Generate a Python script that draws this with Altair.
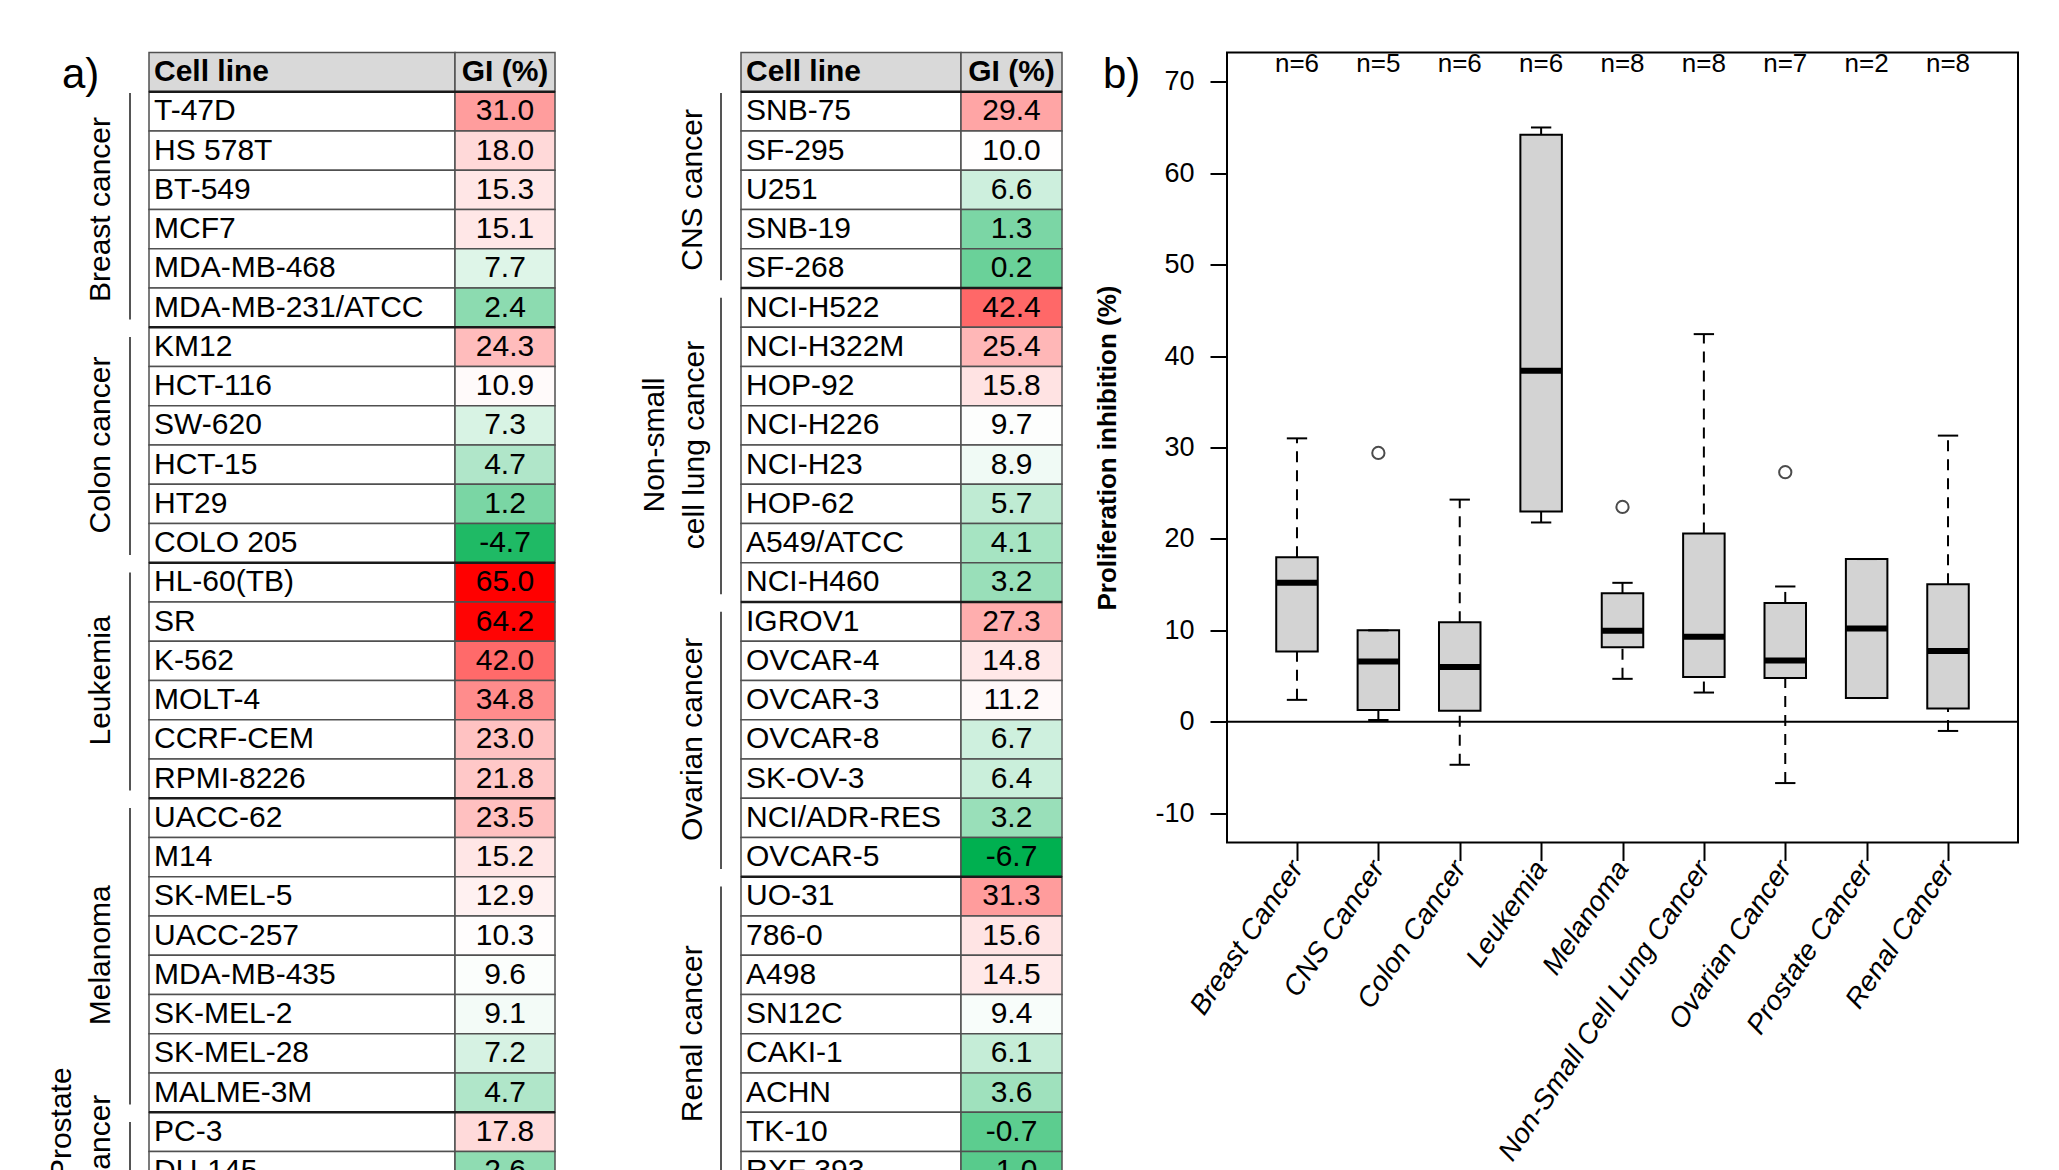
import json
import altair as alt
import numpy as np
import pandas as pd

FONT = "Liberation Sans, Arial, Helvetica, sans-serif"

# ---------------- data ----------------
breast_cells = ["T-47D", "HS 578T", "BT-549", "MCF7", "MDA-MB-468", "MDA-MB-231/ATCC"]
breast_gi = [31.0, 18.0, 15.3, 15.1, 7.7, 2.4]
colon_cells = ["KM12", "HCT-116", "SW-620", "HCT-15", "HT29", "COLO 205"]
colon_gi = [24.3, 10.9, 7.3, 4.7, 1.2, -4.7]
leukemia_cells = ["HL-60(TB)", "SR", "K-562", "MOLT-4", "CCRF-CEM", "RPMI-8226"]
leukemia_gi = [65.0, 64.2, 42.0, 34.8, 23.0, 21.8]
melanoma_cells = ["UACC-62", "M14", "SK-MEL-5", "UACC-257", "MDA-MB-435", "SK-MEL-2", "SK-MEL-28", "MALME-3M"]
melanoma_gi = [23.5, 15.2, 12.9, 10.3, 9.6, 9.1, 7.2, 4.7]
prostate_cells = ["PC-3", "DU-145"]
prostate_gi = [17.8, 2.6]
cns_cells = ["SNB-75", "SF-295", "U251", "SNB-19", "SF-268"]
cns_gi = [29.4, 10.0, 6.6, 1.3, 0.2]
nsclc_cells = ["NCI-H522", "NCI-H322M", "HOP-92", "NCI-H226", "NCI-H23", "HOP-62", "A549/ATCC", "NCI-H460"]
nsclc_gi = [42.4, 25.4, 15.8, 9.7, 8.9, 5.7, 4.1, 3.2]
ovarian_cells = ["IGROV1", "OVCAR-4", "OVCAR-3", "OVCAR-8", "SK-OV-3", "NCI/ADR-RES", "OVCAR-5"]
ovarian_gi = [27.3, 14.8, 11.2, 6.7, 6.4, 3.2, -6.7]
renal_cells = ["UO-31", "786-0", "A498", "SN12C", "CAKI-1", "ACHN", "TK-10", "RXF 393"]
renal_gi = [31.3, 15.6, 14.5, 9.4, 6.1, 3.6, -0.7, -1.0]

table_headers = ["Cell line", "GI (%)"]
left_group_labels = [["Breast cancer"], ["Colon cancer"], ["Leukemia"], ["Melanoma"], ["Prostate", "cancer"]]
right_group_labels = [["CNS cancer"], ["Non-small", "cell lung cancer"], ["Ovarian cancer"], ["Renal cancer"]]

box_categories = ["Breast Cancer", "CNS Cancer", "Colon Cancer", "Leukemia", "Melanoma",
                  "Non-Small Cell Lung Cancer", "Ovarian Cancer", "Prostate Cancer", "Renal Cancer"]
box_values = [breast_gi, cns_gi, colon_gi, leukemia_gi, melanoma_gi, nsclc_gi, ovarian_gi, prostate_gi, renal_gi]
y_ticks = [-10, 0, 10, 20, 30, 40, 50, 60, 70]
y_title = "Proliferation inhibition (%)"

# ---------------- layout (positions/sizes) ----------------
N_ROWS = 28
ROW_H = 39.25
TABLE_H = (N_ROWS + 1) * ROW_H
GRID = "#505050"
SEP = "#1a1a1a"
LEFT_LAYOUT = dict(width=515, tl=109, div=415, tr=515, line_x=90,
                   label_x={1: [61], 2: [22, 61]},
                   label_shift={"Prostate": -0.72, "cancer": -0.3})
RIGHT_LAYOUT = dict(width=522, tl=111, div=331, tr=432, line_x=91,
                    label_x={1: [63], 2: [25, 65]}, label_shift={})

all_gi = [v for vals in box_values for v in vals]
color_scale = alt.Scale(domain=[min(all_gi), float(np.median(all_gi)), max(all_gi)],
                        range=["#00b050", "#ffffff", "#ff0000"], interpolate="rgb")

HYPHEN_FMT = "replace(format(datum.gi, '.1f'), '\u2212', '-')"


def table_chart(groups, labels, lay, panel=None):
    rows, spans, labs = [], [], []
    r = 0
    for g, ((cells, vals), lab) in enumerate(zip(groups, labels)):
        start = r
        for c, v in zip(cells, vals):
            rows.append({"r": r, "name": c, "gi": v})
            r += 1
        spans.append({"start": start, "end": r, "ins": 0.03 if g == 0 else 0.25})
        for k, t in enumerate(lab):
            shift = lay["label_shift"].get(t, 0) if len(lab) > 1 else 0
            labs.append({"text": t, "lx": lay["label_x"][len(lab)][k],
                         "ly": (start + r) / 2 + shift})
    rows_df = pd.DataFrame(rows)
    spans_df = pd.DataFrame(spans)
    labs_df = pd.DataFrame(labs)
    head_df = pd.DataFrame({"h": table_headers, "c": [0, 1]})

    xs = alt.Scale(domain=[0, lay["width"]], nice=False, zero=False)
    ys = alt.Scale(domain=[-1, N_ROWS], reverse=True, nice=False, zero=False)

    def X(f):
        return alt.X(f, type="quantitative", scale=xs, axis=None)

    def Y(f):
        return alt.Y(f, type="quantitative", scale=ys, axis=None)

    tl, dv, tr = lay["tl"], lay["div"], lay["tr"]
    base = alt.Chart(rows_df).transform_calculate(
        bottom="datum.r + 1", mid="datum.r + 0.5",
        x_l=str(tl), x_d=str(dv), x_r=str(tr),
        x_txt=str(tl + 5), x_gi=str((dv + tr) / 2),
        gi_txt=HYPHEN_FMT)

    name_cells = base.mark_rect(fill="white", stroke=GRID, strokeWidth=1.5).encode(
        x=X("x_l"), x2="x_d", y=Y("r"), y2="bottom")
    gi_cells = base.mark_rect(stroke=GRID, strokeWidth=1.5).encode(
        x=X("x_d"), x2="x_r", y=Y("r"), y2="bottom",
        color=alt.Color("gi:Q", scale=color_scale, legend=None))
    name_text = base.mark_text(align="left", baseline="middle", font=FONT, fontSize=30,
                               color="black").encode(x=X("x_txt"), y=Y("mid"), text="name:N")
    gi_text = base.mark_text(align="center", baseline="middle", font=FONT, fontSize=30,
                             color="black").encode(x=X("x_gi"), y=Y("mid"), text="gi_txt:N")

    hbase = alt.Chart(head_df).transform_calculate(
        hx0=f"datum.c == 0 ? {tl} : {dv}", hx1=f"datum.c == 0 ? {dv} : {tr}",
        hy0="-1", hy1="0", hmid="-0.5",
        htx=f"datum.c == 0 ? {tl + 5} : {(dv + tr) / 2}")
    head_rect = hbase.mark_rect(fill="#d9d9d9", stroke=GRID, strokeWidth=1.5).encode(
        x=X("hx0"), x2="hx1", y=Y("hy0"), y2="hy1")
    head_text_l = hbase.transform_filter("datum.c == 0").mark_text(
        align="left", baseline="middle", font=FONT, fontSize=30, fontWeight="bold",
        color="black").encode(x=X("htx"), y=Y("hmid"), text="h:N")
    head_text_r = hbase.transform_filter("datum.c == 1").mark_text(
        align="center", baseline="middle", font=FONT, fontSize=30, fontWeight="bold",
        color="black").encode(x=X("htx"), y=Y("hmid"), text="h:N")

    sbase = alt.Chart(spans_df).transform_calculate(
        x_l=str(tl), x_r=str(tr), lx=str(lay["line_x"]),
        b0="datum.start + datum.ins", b1="datum.end - 0.2")
    sep_rules = sbase.mark_rule(color=SEP, strokeWidth=2.5).encode(
        x=X("x_l"), x2="x_r", y=Y("start"))
    brackets = sbase.mark_rule(color="#555555", strokeWidth=2).encode(
        x=X("lx"), y=Y("b0"), y2="b1")

    lab_text = alt.Chart(labs_df).mark_text(
        angle=270, align="center", baseline="middle", font=FONT, fontSize=30,
        color="black").encode(x=X("lx"), y=Y("ly"), text="text:N")

    layers = [name_cells, gi_cells, head_rect, sep_rules, name_text, gi_text,
              head_text_l, head_text_r, brackets, lab_text]
    if panel:
        p = alt.Chart(pd.DataFrame({"t": [panel]})).transform_calculate(
            px="22", py="-0.43").mark_text(
            align="left", baseline="middle", font=FONT, fontSize=42,
            color="black").encode(x=X("px"), y=Y("py"), text="t:N")
        layers.append(p)
    return alt.layer(*layers).properties(width=lay["width"], height=TABLE_H)


left = table_chart(
    [(breast_cells, breast_gi), (colon_cells, colon_gi), (leukemia_cells, leukemia_gi),
     (melanoma_cells, melanoma_gi), (prostate_cells, prostate_gi)],
    left_group_labels, LEFT_LAYOUT, panel="a)")
right = table_chart(
    [(cns_cells, cns_gi), (nsclc_cells, nsclc_gi), (ovarian_cells, ovarian_gi),
     (renal_cells, renal_gi)],
    right_group_labels, RIGHT_LAYOUT)


# ---------------- box plot (R-style Tukey statistics) ----------------
def fivenum(v):
    x = sorted(v)
    n = len(x)
    n4 = np.floor((n + 3) / 2) / 2
    d = [1, n4, (n + 1) / 2, n + 1 - n4, n]
    return [0.5 * (x[int(np.floor(k)) - 1] + x[int(np.ceil(k)) - 1]) for k in d]


stats, outs = [], []
for i, (cat, vals) in enumerate(zip(box_categories, box_values), start=1):
    fn = fivenum(vals)
    iqr = fn[3] - fn[1]
    lo_f, hi_f = fn[1] - 1.5 * iqr, fn[3] + 1.5 * iqr
    inside = [v for v in vals if lo_f <= v <= hi_f]
    outs += [{"i": i, "v": v} for v in vals if v < lo_f or v > hi_f]
    stats.append({"i": i, "cat": cat, "lo": min(inside), "q1": fn[1], "med": fn[2],
                  "q3": fn[3], "hi": max(inside), "n": len(vals)})
stats_df = pd.DataFrame(stats)
outs_df = pd.DataFrame(outs)

BOX_W, BOX_H = 791, 790
bxs = alt.Scale(domain=[0.14, 9.86], nice=False, zero=False)
bys = alt.Scale(domain=[-13.2, 73.2], nice=False, zero=False)
label_expr = json.dumps(box_categories) + "[datum.value - 1]"
x_axis = alt.Axis(values=list(range(1, 10)), labelExpr=label_expr, title="",
                  labelAngle=304, labelAlign="right", labelBaseline="middle",
                  labelFont=FONT, labelFontSize=28, labelFontStyle="italic",
                  labelColor="black", labelPadding=3, labelOverlap=False, labelFlush=False,
                  labelLimit=1000,
                  tickSize=18, tickWidth=2, tickColor="black", domain=False, grid=False)
y_axis = alt.Axis(values=y_ticks, labelExpr="datum.value + ''",
                  title=y_title, titleFont=FONT, titleFontSize=26,
                  titleFontWeight="bold", titleColor="black", titleAngle=270,
                  titleAlign="center", titleBaseline="middle", titleX=-120, titleY=395,
                  labelFont=FONT, labelFontSize=27, labelColor="black", labelPadding=16,
                  tickSize=17, tickWidth=2, tickColor="black", domain=False, grid=False)


def BX(f):
    return alt.X(f, type="quantitative", scale=bxs, axis=x_axis)


def BY(f):
    return alt.Y(f, type="quantitative", scale=bys, axis=y_axis)


sb = alt.Chart(stats_df).transform_calculate(
    xl="datum.i - 0.255", xr="datum.i + 0.255",
    sl="datum.i - 0.125", sr="datum.i + 0.125",
    lab="'n=' + datum.n")
dash = dict(color="black", strokeWidth=2, strokeDash=[11, 8])
wlo = sb.mark_rule(**dash).encode(x=BX("i"), y=BY("lo"), y2="q1")
whi = sb.mark_rule(**dash).encode(x=BX("i"), y=BY("q3"), y2="hi")
st_lo = sb.mark_rule(color="black", strokeWidth=2).encode(x=BX("sl"), x2="sr", y=BY("lo"))
st_hi = sb.mark_rule(color="black", strokeWidth=2).encode(x=BX("sl"), x2="sr", y=BY("hi"))
boxes = sb.mark_rect(fill="#d3d3d3", stroke="black", strokeWidth=2).encode(
    x=BX("xl"), x2="xr", y=BY("q1"), y2="q3")
meds = sb.mark_rule(color="black", strokeWidth=6).encode(x=BX("xl"), x2="xr", y=BY("med"))
nlab = sb.mark_text(font=FONT, fontSize=26, color="black", baseline="middle").encode(
    x=BX("i"), y=alt.YDatum(71.9, type="quantitative", scale=bys, axis=y_axis), text="lab:N")
outl = alt.Chart(outs_df).mark_point(shape="circle", filled=False, size=150,
                                      strokeWidth=2, color="black").encode(
    x=BX("i"), y=BY("v"))
zero = alt.Chart(pd.DataFrame({"z": [0]})).mark_rule(color="black", strokeWidth=2).encode(
    y=BY("z"))
blab = alt.Chart(pd.DataFrame({"t": ["b)"]})).mark_text(
    align="left", baseline="middle", font=FONT, fontSize=42, color="black").encode(
    x=alt.value(-124), y=alt.value(22), text="t:N")

boxplot = alt.layer(wlo, whi, boxes, meds, st_lo, st_hi, outl, zero, nlab, blab).properties(
    width=BOX_W, height=BOX_H, view=alt.ViewBackground(stroke="black", strokeWidth=2))

chart = alt.hconcat(left, right, boxplot, spacing=75, bounds="flush").properties(
    padding={"left": 32, "top": 41.5, "right": 10, "bottom": 10}
).configure_view(strokeWidth=0)

chart.save("out.html", embed_options={"renderer": "svg", "actions": False})
